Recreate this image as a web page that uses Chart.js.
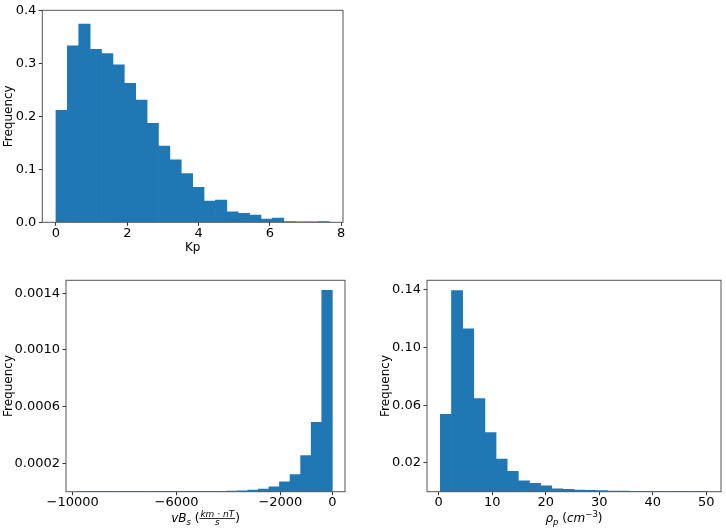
<!DOCTYPE html>
<html>
<head>
<meta charset="utf-8">
<script src="https://cdn.jsdelivr.net/npm/chart.js@4.4.1/dist/chart.umd.min.js"></script>
<style>
  body { margin: 0; background: #fff; width: 726px; height: 531px; position: relative; overflow: hidden; }
  canvas { position: absolute; }
</style>
</head>
<body>
<canvas id="kp" width="355" height="262" style="left:0;top:0"></canvas>
<canvas id="vbs" width="355" height="261" style="left:0;top:270px"></canvas>
<canvas id="rho" width="360" height="261" style="left:366px;top:270px"></canvas>
<script>
// Kp histogram (24 bins, density)
const kpRange = [0, 7.667];
const kpFreq = [0.212, 0.334, 0.375, 0.327, 0.319, 0.298, 0.263, 0.231, 0.187, 0.144, 0.118, 0.092,
  0.066, 0.040, 0.042, 0.020, 0.017, 0.0135, 0.006, 0.008, 0.0015, 0.001, 0.0003, 0.0012];
const kpXTicks = [0, 2, 4, 6, 8];
const kpYTicks = [0, 0.1, 0.2, 0.3, 0.4];

// vBs histogram
const vbsRange = [-9767, 0];
const vbsFreq = [0, 0, 0, 0, 0, 0, 0, 0, 0.0000003, 0.0000005, 0.0000008, 0.000001,
  0.0000015, 0.0000025, 0.000004, 0.000007, 0.0000117, 0.0000185, 0.000034, 0.00007, 0.00012, 0.000254, 0.00049, 0.00142];
const vbsXTicks = [-10000, -6000, -2000, 0];
const vbsYTicks = [0.0002, 0.0006, 0.0010, 0.0014];

// proton density histogram
const rhoRange = [0.317, 50.25];
const rhoFreq = [0.0537, 0.1396, 0.113, 0.0647, 0.0411, 0.0227, 0.0142, 0.0076, 0.0058, 0.0040, 0.0020, 0.0016,
  0.0011, 0.0009, 0.0007, 0.0005, 0.0004, 0.0002, 0.0001, 0.0001, 0.00005, 0.00003, 0.00002, 0.00001];
const rhoXTicks = [0, 10, 20, 30, 40, 50];
const rhoYTicks = [0.02, 0.06, 0.10, 0.14];

Chart.defaults.font.family = '"DejaVu Sans", sans-serif';
Chart.defaults.color = '#000';

// bins -> {x: centre, y: freq}
function binPoints(range, freq) {
  const w = (range[1] - range[0]) / freq.length;
  return freq.map((f, i) => ({ x: range[0] + w * (i + 0.5), y: f }));
}

// axes box like matplotlib spines
const frame = {
  id: 'frame',
  afterDatasetsDraw(chart) {
    const { ctx, chartArea: a } = chart;
    ctx.save();
    ctx.strokeStyle = '#555';
    ctx.lineWidth = 1;
    ctx.strokeRect(a.left, a.top, a.right - a.left, a.bottom - a.top);
    ctx.restore();
  }
};

// mathtext-like x label
const mathLabel = {
  id: 'mathLabel',
  afterDraw(chart, args, opts) {
    if (!opts.parts) return;
    const { ctx, chartArea: a } = chart;
    const font = p => (p.it ? 'italic ' : '') + (p.size || 12) + 'px "DejaVu Sans"';
    let total = 0;
    opts.parts.forEach(p => {
      ctx.font = font(p);
      p.w = p.frac
        ? Math.max(ctx.measureText(p.frac[0]).width, ctx.measureText(p.frac[1]).width) + 2
        : ctx.measureText(p.t).width;
      total += p.w;
    });
    const base = chart.scales.x.bottom - 13 + 4.4;
    let x = (a.left + a.right) / 2 - total / 2;
    ctx.save();
    ctx.fillStyle = '#000';
    ctx.textBaseline = 'alphabetic';
    opts.parts.forEach(p => {
      ctx.font = font(p);
      if (p.frac) {
        const mid = base - 4;
        ctx.textAlign = 'center';
        ctx.fillText(p.frac[0], x + p.w / 2, mid - 1.5);
        ctx.fillText(p.frac[1], x + p.w / 2, mid + 6.5);
        ctx.fillRect(x, mid - 0.4, p.w, 0.8);
        ctx.textAlign = 'left';
      } else {
        ctx.fillText(p.t, x, base + (p.dy || 0));
      }
      x += p.w;
    });
    ctx.restore();
  }
};

function histChart(id, cfg) {
  return new Chart(document.getElementById(id), {
    type: 'bar',
    data: {
      datasets: [{
        data: binPoints(cfg.range, cfg.freq),
        backgroundColor: '#1f77b4',
        borderWidth: 0,
        barPercentage: 1,
        categoryPercentage: 1
      }]
    },
    options: {
      responsive: false,
      animation: false,
      layout: { padding: cfg.padding },
      plugins: {
        legend: { display: false },
        tooltip: { enabled: false },
        mathLabel: { parts: cfg.xParts }
      },
      scales: {
        x: {
          type: 'linear',
          offset: false,
          min: cfg.xMin,
          max: cfg.xMax,
          afterFit: s => { s.height = cfg.xHeight; },
          afterBuildTicks: s => { s.ticks = cfg.xTicks.map(v => ({ value: v })); },
          grid: { offset: false, drawOnChartArea: false, drawTicks: true, tickLength: 3.5, tickColor: '#333' },
          border: { display: false },
          ticks: {
            font: { size: 13 }, padding: 0, maxRotation: 0, autoSkip: false,
            callback: v => v < 0 ? '\u2212' + Math.abs(v) : String(v)
          },
          title: {
            display: !!cfg.xTitle, text: cfg.xTitle, font: { size: 12 },
            padding: { top: 0, bottom: 6.8 }
          }
        },
        y: {
          min: 0,
          max: cfg.yMax,
          afterFit: s => { s.width = cfg.yWidth; },
          afterBuildTicks: s => { s.ticks = cfg.yTicks.map(v => ({ value: v })); },
          grid: { drawOnChartArea: false, drawTicks: true, tickLength: 3.5, tickColor: '#333' },
          border: { display: false },
          ticks: { font: { size: 13 }, padding: 2.5, callback: v => v.toFixed(cfg.yDec) },
          title: {
            display: true, text: 'Frequency', font: { size: 12 },
            padding: { top: cfg.yTitlePad, bottom: 0 }
          }
        }
      }
    },
    plugins: [frame, mathLabel]
  });
}

histChart('kp', {
  range: kpRange, freq: kpFreq, xTicks: kpXTicks, yTicks: kpYTicks,
  xMin: -0.383, xMax: 8.05, yMax: 0.401, yDec: 1,
  padding: { top: 5.3, right: 12, left: 0, bottom: 0 },
  yWidth: 42.3, xHeight: 39.7, yTitlePad: 1.3, xTitle: 'Kp'
});

histChart('vbs', {
  range: vbsRange, freq: vbsFreq, xTicks: vbsXTicks, yTicks: vbsYTicks,
  xMin: -10255, xMax: 488, yMax: 0.001491, yDec: 4,
  padding: { top: 4.7, right: 10, left: 0, bottom: 0 },
  yWidth: 66, xHeight: 39.3, yTitlePad: 1.3,
  xParts: [
    { t: 'vB', it: true },
    { t: 's', it: true, size: 8.5, dy: 2.5 },
    { t: ' (' },
    { frac: ['km \u00b7 nT', 's'], it: true, size: 9 },
    { t: ')' }
  ]
});

histChart('rho', {
  range: rhoRange, freq: rhoFreq, xTicks: rhoXTicks, yTicks: rhoYTicks,
  xMin: -2.18, xMax: 52.74, yMax: 0.1467, yDec: 2,
  padding: { top: 4.7, right: 5, left: 0, bottom: 0 },
  yWidth: 61, xHeight: 39.3, yTitlePad: 12.8,
  xParts: [
    { t: '\u03c1', it: true },
    { t: 'p', it: true, size: 8.5, dy: 2.5 },
    { t: ' (' },
    { t: 'cm', it: true },
    { t: '\u22123', size: 8.5, dy: -5 },
    { t: ')' }
  ]
});
</script>
</body>
</html>
